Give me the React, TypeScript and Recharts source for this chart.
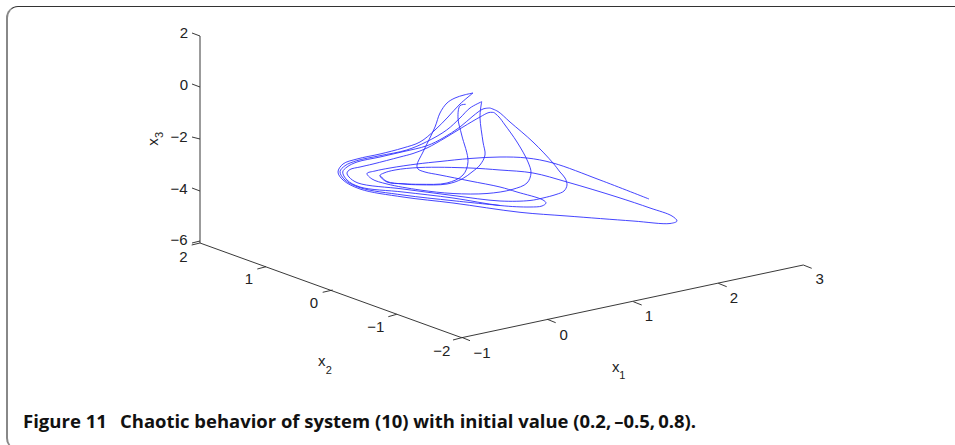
import React from "react";
import { ComposedChart, Line, Scatter, XAxis, YAxis } from "recharts";

type Pt = [number, number];

// Projected trajectory (plane coords of the 3-D view)
const strandStart: Pt[] = [
  [649, 199], [600, 180], [553, 163], [527, 158], [500, 157], [470, 158.5], [440, 161.5], [417, 164],
  [390, 168], [375, 171], [367, 173.5], [372, 179], [387, 184], [420, 190], [453, 193.5], [487, 193.5],
  [512, 189.5], [527, 183], [531, 173], [528, 162], [517, 142], [505, 125], [499, 117], [494, 112.5],
];
const strandPeak493: Pt[] = [
  [494, 112.5], [489, 112.5], [480, 117], [463, 127], [445, 138], [427, 148], [413, 153.5], [400, 157],
  [373, 164], [360, 167], [350, 169.5], [347, 173], [349, 177], [358, 183], [403, 189], [453, 195.5],
  [500, 201], [530, 200.5], [543, 198], [556, 194.5], [564, 191], [567, 185], [565, 178], [560, 172],
  [553, 163], [533, 142], [510, 122], [498, 111.5], [490, 108],
];
const strandPeak490: Pt[] = [
  [490, 108], [483, 109], [473, 116], [460, 127], [443, 138], [427, 145.7], [403, 151.7], [380, 157],
  [357, 162], [347, 167], [342.7, 172], [347, 180], [360, 187], [403, 192], [453, 198], [500, 205.5],
  [530, 207], [542, 206], [546, 203], [543, 200], [517, 192], [500, 187], [470, 181], [440, 175],
  [425, 172], [418, 169], [417, 165], [423, 152], [435, 127], [440, 113], [447, 103], [455, 98],
  [464, 95], [473, 93],
];
const strandPeak473: Pt[] = [
  [473, 93], [460, 104], [448, 117], [435, 130], [420, 142], [403, 148], [380, 154], [357, 159],
  [343, 164], [338, 172], [343, 180], [360, 189], [403, 197], [453, 203], [520, 212.3], [567, 216],
  [633, 221], [670, 223.5], [677, 221], [672, 216], [650, 208], [617, 197], [567, 182], [533, 173],
  [500, 170], [470, 168], [420, 167.5], [395, 170], [384, 173], [380, 175.5], [387, 182], [403, 183.7],
  [420, 184.3], [447, 183], [463, 175], [468, 161.7], [461.7, 135], [458, 118], [460, 105.7], [465.7, 104.3],
];
const strandPeak482Up: Pt[] = [
  [380, 175.5], [387, 181.5], [403, 184], [420, 184.8], [447, 184],
  [462, 179], [472, 172], [480, 165], [485, 155], [483, 142], [480, 118], [480.7, 108], [481.7, 101.7],
];
const strandPeak482Down: Pt[] = [
  [481.7, 101.7], [470, 108], [460, 118], [446.7, 130], [426.7, 141.7], [406.7, 150], [380, 155.7],
  [356.7, 160.7], [345, 165.7], [340, 171.7], [345, 180], [360, 187.7], [403, 195], [453, 200.7], [500, 205.5],
];
const strands = [strandStart, strandPeak493, strandPeak490, strandPeak473, strandPeak482Up, strandPeak482Down];

// Axis box edges
const axisX3: Pt[] = [[200, 36], [200, 243]];
const axisX2: Pt[] = [[200, 243], [461.7, 337.7]];
const axisX1: Pt[] = [[461.7, 337.7], [803.3, 265]];
const ticksX3: Pt[][] = [
  [[192, 33], [200, 36]], [[192, 84], [200, 87]], [[192, 137], [200, 139]], [[192, 188], [200, 191]], [[192, 243], [200, 241]],
];
const ticksX2: Pt[][] = [
  [[191.7, 245], [200, 243]], [[257.3, 269], [266, 266.7]], [[322.7, 292.3], [332.7, 290]], [[388.3, 316.7], [396.7, 314.3]], [[453, 340], [461.7, 337.7]],
];
const ticksX1: Pt[][] = [
  [[461.7, 337.3], [470, 340.7]], [[547.3, 319.3], [555.7, 322.7]], [[633.3, 301.7], [641.7, 305]], [[718.3, 283.3], [726.7, 286.7]], [[803.3, 265], [811.7, 268.3]],
];
const axisLines = [axisX3, axisX2, axisX1, ...ticksX3, ...ticksX2, ...ticksX1];

const tickLabels = [
  { x: 184, y: 32, text: "2" }, { x: 184, y: 84, text: "0" }, { x: 179, y: 136.5, text: "−2" }, { x: 179, y: 188, text: "−4" }, { x: 179, y: 239, text: "−6" },
  { x: 183.3, y: 256, text: "2" }, { x: 249, y: 278.7, text: "1" }, { x: 314, y: 302.3, text: "0" }, { x: 375.7, y: 326, text: "−1" }, { x: 441.7, y: 350, text: "−2" },
  { x: 482, y: 352.3, text: "−1" }, { x: 563.7, y: 334, text: "0" }, { x: 649, y: 315.7, text: "1" }, { x: 734, y: 297.7, text: "2" }, { x: 819.7, y: 278.7, text: "3" },
  { x: 321.7, y: 360.5, text: "x" }, { x: 615.7, y: 366, text: "x" },
];
const subLabels = [
  { x: 328.7, y: 369.5, text: "2" }, { x: 622.3, y: 375, text: "1" },
];
const x3Label = [{ x: 152, y: 142, text: "x" }];
const x3Sub = [{ x: 159, y: 135, text: "3" }];

const captionHead = "Figure 11";
const captionBody = "Chaotic behavior of system (10) with initial value (0.2,\u2009–0.5,\u20090.8).";
const toRows = (pts: Pt[]) => pts.map(([x, y]) => ({ x, y }));
const font = "'Liberation Sans', Arial, sans-serif";

// centripetal catmull-rom, keeps the spline from overshooting on uneven points
function smoothCurve(context: any) {
  let pts: Pt[] = [];
  return {
    areaStart() {},
    areaEnd() {},
    lineStart() {
      pts = [];
    },
    point(x: number, y: number) {
      pts.push([+x, +y]);
    },
    lineEnd() {
      pts.forEach((p, i) => {
        if (i === 0) {
          context.moveTo(p[0], p[1]);
          return;
        }
        const p0 = pts[Math.max(i - 2, 0)];
        const p1 = pts[i - 1];
        const p3 = pts[Math.min(i + 1, pts.length - 1)];
        const d1 = Math.max(Math.sqrt(Math.hypot(p1[0] - p0[0], p1[1] - p0[1])), 1e-3);
        const d2 = Math.max(Math.sqrt(Math.hypot(p[0] - p1[0], p[1] - p1[1])), 1e-3);
        const d3 = Math.max(Math.sqrt(Math.hypot(p3[0] - p[0], p3[1] - p[1])), 1e-3);
        const ctrl = (k: number) => {
          const a = (d1 * d1 * p[k] - d2 * d2 * p0[k] + (2 * d1 * d1 + 3 * d1 * d2 + d2 * d2) * p1[k]) / (3 * d1 * (d1 + d2));
          const b = (d3 * d3 * p1[k] - d2 * d2 * p3[k] + (2 * d3 * d3 + 3 * d3 * d2 + d2 * d2) * p[k]) / (3 * d3 * (d3 + d2));
          return [a, b];
        };
        const [ax, bx] = ctrl(0);
        const [ay, by] = ctrl(1);
        context.bezierCurveTo(ax, ay, bx, by, p[0], p[1]);
      });
    },
  };
}

const PlainText = ({ cx, cy, payload }: any) => (
  <text x={cx} y={cy} textAnchor="middle" dominantBaseline="central" fontFamily={font} fontSize={15} fill="#222">
    {payload.text}
  </text>
);
const SubText = ({ cx, cy, payload }: any) => (
  <text x={cx} y={cy} textAnchor="middle" dominantBaseline="central" fontFamily={font} fontSize={11} fill="#222">
    {payload.text}
  </text>
);
const TurnedText = ({ cx, cy, payload }: any) => (
  <text x={cx} y={cy} transform={`rotate(-90 ${cx} ${cy})`} textAnchor="middle" dominantBaseline="central" fontFamily={font} fontSize={15} fill="#222">
    {payload.text}
  </text>
);
const TurnedSub = ({ cx, cy, payload }: any) => (
  <text x={cx} y={cy} transform={`rotate(-90 ${cx} ${cy})`} textAnchor="middle" dominantBaseline="central" fontFamily={font} fontSize={11} fill="#222">
    {payload.text}
  </text>
);

export default function App() {
  return (
    <div style={{ position: "absolute", left: 0, top: 0, width: 955, height: 445, overflow: "hidden", background: "#fff" }}>
      {/* card outline, runs off the right and bottom of the crop */}
      <div
        style={{
          position: "absolute",
          left: 6,
          top: 6,
          width: 980,
          height: 444,
          boxSizing: "border-box",
          borderTop: "1px solid #333",
          borderLeft: "2px solid #888",
          borderBottom: "1px solid #555",
          borderRadius: "12px 0 0 12px",
        }}
      />
      <ComposedChart width={955} height={445} margin={{ top: 0, right: 0, bottom: 0, left: 0 }} style={{ position: "absolute", left: 0, top: 0 }}>
        <XAxis type="number" dataKey="x" domain={[0, 955]} hide />
        <YAxis type="number" dataKey="y" domain={[0, 445]} reversed hide />
        {axisLines.map((seg, i) => (
          <Line key={`axis-${i}`} data={toRows(seg)} dataKey="y" stroke="#222" strokeWidth={0.9} dot={false} type="linear" isAnimationActive={false} />
        ))}
        {strands.map((seg, i) => (
          <Line key={`strand-${i}`} data={toRows(seg)} dataKey="y" stroke="#3030ff" strokeWidth={0.9} dot={false} type={smoothCurve as any} isAnimationActive={false} />
        ))}
        <Scatter data={tickLabels} dataKey="y" shape={PlainText} isAnimationActive={false} />
        <Scatter data={subLabels} dataKey="y" shape={SubText} isAnimationActive={false} />
        <Scatter data={x3Label} dataKey="y" shape={TurnedText} isAnimationActive={false} />
        <Scatter data={x3Sub} dataKey="y" shape={TurnedSub} isAnimationActive={false} />
      </ComposedChart>
      <svg width={955} height={445} style={{ position: "absolute", left: 0, top: 0 }}>
        <text x={23} y={428} fontFamily="'Open Sans', sans-serif" fontWeight={700} fontSize={18} fill="#111" textLength={84} lengthAdjust="spacingAndGlyphs">
          {captionHead}
        </text>
        <text x={120} y={428} fontFamily="'Open Sans', sans-serif" fontWeight={700} fontSize={18} fill="#111" textLength={576} lengthAdjust="spacingAndGlyphs">
          {captionBody}
        </text>
      </svg>
    </div>
  );
}
